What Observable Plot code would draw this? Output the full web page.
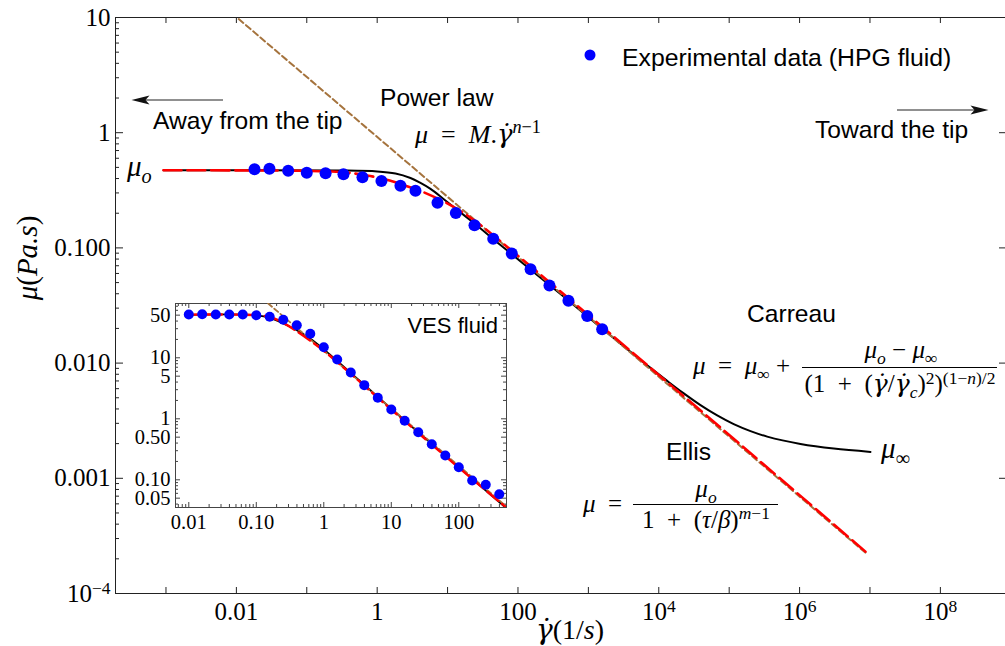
<!DOCTYPE html>
<html><head><meta charset="utf-8">
<script src="https://cdn.jsdelivr.net/npm/d3@7"></script>
<script src="https://cdn.jsdelivr.net/npm/@observablehq/plot@0.6"></script>
<style>
body{margin:0;background:#fff;}
#wrap{position:relative;width:1005px;height:646px;overflow:hidden;background:#fff;}
#wrap svg{position:absolute;overflow:visible;}
</style></head><body><div id="wrap"></div>
<script>
// ---------- DATA ----------
// Main plot: HPG fluid experimental data
const hpgRate = [0.0181,0.0295,0.0545,0.1,0.185,0.332,0.618,1.15,2.14,3.5,7.19,13.1,24.1,44.5,81.7,151,280,521,962,1570];
const hpgVisc = [0.482,0.487,0.468,0.45,0.444,0.436,0.41,0.381,0.347,0.314,0.246,0.201,0.157,0.120,0.0893,0.0654,0.0471,0.0347,0.0256,0.0197];
// Carreau fit (black)
const carreauRate = [9.22e-4,0.301,1,1.82,2.97,4.12,5.72,8.75,13.8,24.1,56.4,402,1486,4415,7621,1.316e4,2.265e4,3.91e4,6.76e4,1.16e5,2.01e5,3.47e5,1.03e6,3.06e6,1.016e7];
const carreauVisc = [0.4718,0.47,0.461,0.442,0.404,0.366,0.325,0.266,0.213,0.163,0.106,0.0398,0.02049,0.01188,0.009086,0.007008,0.005458,0.004318,0.003516,0.002954,0.002569,0.002301,0.001988,0.00181,0.001695];
// Ellis fit (red dashed)
const ellisRate = [9.22e-4,0.0814,0.301,0.721,1.24,2.14,4.12,8.75,16.8,29.3,8.63e6];
const ellisVisc = [0.4718,0.467,0.456,0.425,0.396,0.359,0.312,0.253,0.201,0.158,2.31e-4];
// Power law (brown dashed)
const powerRate = [0.0108,8.63e6];
const powerVisc = [9.7,2.26e-4];

// Inset: VES fluid
const vesRate = [0.01,0.0158,0.0251,0.0398,0.063,0.1,0.158,0.251,0.398,0.631,1,1.58,2.51,3.98,6.31,10,15.8,25.1,39.8,63.1,100,158,251,398];
const vesVisc = [51.3,51.9,51.3,51.3,51.3,49.9,47.0,42.0,34.2,24.7,14.9,9.38,5.74,3.56,2.21,1.42,0.927,0.603,0.383,0.250,0.161,0.0975,0.0828,0.0581];
const vesCarreauRate = [0.01,0.103,0.162,0.255,0.404,0.635,1.12,10,100,509];
const vesCarreauVisc = [50.4,49.7,44.6,36.1,28.0,20.5,12.4,1.46,0.161,0.034];
const vesEllisRate = [0.01,0.1,0.162,0.255,0.404,0.635,1.12,10,100,509];
const vesEllisVisc = [51,50,46.5,37,27,19,11.8,1.42,0.158,0.035];
const vesPowerRate = [0.15,509];
const vesPowerVisc = [77.6,0.0365];

// Tick labels
const xLabelVals = [0.01,1,100,1e4,1e6,1e8];
const xLabels = ["0.01","1","100","10^4","10^6","10^8"];
const yLabelVals = [10,1,0.1,0.01,0.001,1e-4];
const yLabels = ["10","1","0.100","0.010","0.001","10^−4"];
const xTickVals = [1e-3,1e-2,1e-1,1,10,100,1e3,1e4,1e5,1e6,1e7,1e8];
const insetXLabelVals = [0.01,0.1,1,10,100];
const insetXLabels = ["0.01","0.10","1","10","100"];
const insetYLabelVals = [50,10,5,1,0.5,0.1,0.05];
const insetYLabels = ["50","10","5","1","0.50","0.10","0.05"];

// ---------- helpers ----------
const zip = (xs, ys) => xs.map((x, i) => ({x, y: ys[i]}));
function minorLog(decades, mants, lo, hi) {
  const out = [];
  for (const d of decades) for (const m of mants) { const v = m * d; if (v > lo && v < hi) out.push(v); }
  return out;
}
const axisColor = "#222";
const powerColor = "#a5733d";

// ---------- MAIN PLOT ----------
const W = 1005, H = 646, mL = 115, mR = 0, mT = 17, mB = 53;
const innerW = W - mL - mR, innerH = H - mT - mB;
const xDomain = [Math.pow(10, -3.717), Math.pow(10, 8.925)];
const yDomain = [1e-4, 10];
const yMinor = minorLog([1e-4,1e-3,1e-2,1e-1,1], [2,3,4,5,6,7,8,9], 1e-4, 10);
const xMap = new Map(xLabelVals.map((v, i) => [v, xLabels[i]]));
const yMap = new Map(yLabelVals.map((v, i) => [v, yLabels[i]]));

const main = Plot.plot({
  width: W, height: H, marginLeft: mL, marginRight: mR, marginTop: mT, marginBottom: mB,
  style: {fontFamily: "Liberation Serif", fontSize: "25px", background: "transparent", color: "#000"},
  x: {type: "log", domain: xDomain, axis: null},
  y: {type: "log", domain: yDomain, axis: null},
  marks: [
    Plot.frame({stroke: axisColor}),
    Plot.tickX(xTickVals, {x: d => d, insetTop: innerH - 6, stroke: axisColor}),
    Plot.tickX(xTickVals, {x: d => d, insetBottom: innerH - 6, stroke: axisColor}),
    Plot.tickY(yLabelVals, {y: d => d, insetRight: innerW - 8, stroke: axisColor}),
    Plot.tickY(yMinor, {y: d => d, insetRight: innerW - 4, stroke: axisColor}),
    Plot.tickY(yLabelVals, {y: d => d, insetLeft: innerW - 6, stroke: axisColor}),
    Plot.text(xLabelVals, {x: d => d, text: d => xMap.get(d), frameAnchor: "bottom", lineAnchor: "top", dy: 9, fontSize: 25}),
    Plot.text(yLabelVals, {y: d => d, text: d => yMap.get(d), frameAnchor: "left", textAnchor: "end", dx: -5, fontSize: 25}),
    Plot.line(zip(carreauRate, carreauVisc), {x: "x", y: "y", stroke: "#000", strokeWidth: 2, curve: "catmull-rom", clip: true}),
    Plot.line(zip(powerRate, powerVisc), {x: "x", y: "y", stroke: powerColor, strokeWidth: 2, strokeDasharray: "6,3.5", clip: true}),
    Plot.line(zip(ellisRate, ellisVisc), {x: "x", y: "y", stroke: "#ff0000", strokeWidth: 2.6, strokeDasharray: "18,6", curve: "catmull-rom", clip: true}),
    Plot.dot(zip(hpgRate, hpgVisc), {x: "x", y: "y", r: 6, fill: "#0000ff", stroke: "none"})
  ]
});
main.style.left = "0px"; main.style.top = "0px";
document.getElementById("wrap").appendChild(main);

// ---------- INSET PLOT ----------
const iL = 50, iR = 4, iT = 4, iB = 30, iW = 385, iH = 238;
const iInnerW = iW - iL - iR, iInnerH = iH - iT - iB;
const ixDomain = [Math.pow(10, -2.197), Math.pow(10, 2.707)];
const iyDomain = [Math.pow(10, -1.454), Math.pow(10, 1.89)];
const ixMinor = minorLog([1e-3,1e-2,1e-1,1,10,100], [2,3,4,5,6,7,8,9], ixDomain[0], ixDomain[1]);
const iyMinor = minorLog([1e-2,1e-1,1,10], [2,3,4,6,7,8,9], iyDomain[0], iyDomain[1]);
const ixMap = new Map(insetXLabelVals.map((v, i) => [v, insetXLabels[i]]));
const iyMap = new Map(insetYLabelVals.map((v, i) => [v, insetYLabels[i]]));

const inset = Plot.plot({
  width: iW, height: iH, marginLeft: iL, marginRight: iR, marginTop: iT, marginBottom: iB,
  style: {fontFamily: "Liberation Serif", fontSize: "20px", background: "transparent", color: "#000"},
  x: {type: "log", domain: ixDomain, axis: null},
  y: {type: "log", domain: iyDomain, axis: null},
  marks: [
    Plot.frame({stroke: "#444"}),
    Plot.tickX(insetXLabelVals, {x: d => d, insetTop: iInnerH - 5, stroke: "#444"}),
    Plot.tickX(ixMinor, {x: d => d, insetTop: iInnerH - 3, stroke: "#444"}),
    Plot.tickX(insetXLabelVals, {x: d => d, insetBottom: iInnerH - 5, stroke: "#444"}),
    Plot.tickX(ixMinor, {x: d => d, insetBottom: iInnerH - 3, stroke: "#444"}),
    Plot.tickY(insetYLabelVals, {y: d => d, insetRight: iInnerW - 5, stroke: "#444"}),
    Plot.tickY(iyMinor, {y: d => d, insetRight: iInnerW - 3, stroke: "#444"}),
    Plot.tickY(insetYLabelVals, {y: d => d, insetLeft: iInnerW - 5, stroke: "#444"}),
    Plot.tickY(iyMinor, {y: d => d, insetLeft: iInnerW - 3, stroke: "#444"}),
    Plot.text(insetXLabelVals, {x: d => d, text: d => ixMap.get(d), frameAnchor: "bottom", lineAnchor: "top", dy: 7, fontSize: 20.5}),
    Plot.text(insetYLabelVals, {y: d => d, text: d => iyMap.get(d), frameAnchor: "left", textAnchor: "end", dx: -5, fontSize: 20.5}),
    Plot.line(zip(vesCarreauRate, vesCarreauVisc), {x: "x", y: "y", stroke: "#000", strokeWidth: 1.8, curve: "catmull-rom", clip: true}),
    Plot.line(zip(vesPowerRate, vesPowerVisc), {x: "x", y: "y", stroke: powerColor, strokeWidth: 1.8, strokeDasharray: "5,3", clip: true}),
    Plot.line(zip(vesEllisRate, vesEllisVisc), {x: "x", y: "y", stroke: "#ff0000", strokeWidth: 2.4, strokeDasharray: "14,5", curve: "catmull-rom", clip: true}),
    Plot.dot(zip(vesRate, vesVisc), {x: "x", y: "y", r: 5, fill: "#0000ff", stroke: "none"})
  ]
});
inset.style.left = (175 - iL) + "px"; inset.style.top = (303 - iT) + "px";
document.getElementById("wrap").appendChild(inset);

// ---------- superscripts in tick labels ----------
for (const svg of [main, inset]) {
  d3.select(svg).selectAll("text").each(function () {
    const s = this.textContent;
    if (s && s.includes("^")) {
      const [base, sup] = s.split("^");
      const t = d3.select(this);
      t.text(null);
      t.append("tspan").text(base);
      t.append("tspan").text(sup).attr("font-size", "70%").attr("dy", "-0.45em");
    }
  });
}

// ---------- annotations ----------
const g = d3.select(main).append("g");
function plainText(x, y, s, {size = 24.6, anchor = "start", family = "Liberation Sans"} = {}) {
  return g.append("text").attr("x", x).attr("y", y).attr("font-family", family)
    .attr("font-size", size).attr("text-anchor", anchor).attr("fill", "#000").text(s);
}
// flags: i = italic, ^ = superscript, _ = subscript, g = gamma-dot font
function mathText(x, y, parts, {size = 24, anchor = "start", rotate = null, supRaise = 0.38} = {}) {
  const t = g.append("text").attr("x", x).attr("y", y).attr("font-family", "Liberation Serif")
    .attr("font-size", size).attr("text-anchor", anchor).attr("fill", "#000");
  if (rotate != null) t.attr("transform", `rotate(${rotate},${x},${y})`);
  let off = 0;
  for (const [s, f = ""] of parts) {
    let target = 0, fs = size;
    if (f.includes("^")) { target = -supRaise * size; fs = size * 0.7; }
    if (f.includes("_")) { target = 0.25 * size; fs = size * 0.7; }
    const ts = t.append("tspan").text(s).attr("font-size", fs).attr("dy", target - off);
    if (f.includes("i")) ts.attr("font-style", "italic");
    if (f.includes("g")) ts.attr("font-family", "DejaVu Serif");
    off = target;
  }
  return t;
}
function arrow(x1, x2, y) {
  const dir = Math.sign(x2 - x1);
  g.append("line").attr("x1", x1).attr("x2", x2 - dir * 8).attr("y1", y).attr("y2", y)
    .attr("stroke", "#222").attr("stroke-width", 1.2);
  g.append("path").attr("d", `M${x2},${y}L${x2 - dir * 18},${y - 4.5}L${x2 - dir * 14},${y}L${x2 - dir * 18},${y + 4.5}Z`).attr("fill", "#111");
}
const EQ = "\u2002=\u2002";
const GD = "γ\u0307";

// Legend
g.append("circle").attr("cx", 590).attr("cy", 55).attr("r", 5.5).attr("fill", "#0000ff");
plainText(622, 65.5, "Experimental data (HPG fluid)", {size: 24.8});

plainText(380, 105.5, "Power law");
plainText(153, 128.5, "Away from the tip");
arrow(223, 131.5, 100);
plainText(815, 138, "Toward the tip");
arrow(897, 988.5, 110);
plainText(747, 321.5, "Carreau");
plainText(666, 460, "Ellis");
plainText(498, 333, "VES fluid", {size: 22, anchor: "end"});

// Power-law formula
mathText(415, 143, [["μ", "i"], [EQ], ["M", "i"], ["."], [GD, "ig"], ["n", "i^"], ["−1", "^"]], {size: 26});
// mu_o and mu_inf labels
mathText(127, 176, [["μ", "i"], ["o", "i_"]], {size: 29});
mathText(881, 458, [["μ", "i"], ["∞", "_"]], {size: 29});

// Carreau formula
mathText(693, 374, [["μ", "i"], [EQ], ["μ", "i"], ["∞", "_"], [" + "]], {size: 25});
mathText(901, 357.5, [["μ", "i"], ["o", "i_"], [" − "], ["μ", "i"], ["∞", "_"]], {size: 25, anchor: "middle"});
g.append("line").attr("x1", 802).attr("x2", 997).attr("y1", 367.5).attr("y2", 367.5).attr("stroke", "#000").attr("stroke-width", 1);
mathText(900, 392, [["(1\u2002+\u2002("], [GD, "ig"], ["/"], [GD, "ig"], ["c", "i_"], [")"], ["2", "^"], [")"], ["(1−", "^"], ["n", "i^"], [")/2", "^"]], {size: 25, anchor: "middle", supRaise: 0.33});

// Ellis formula
mathText(583, 512, [["μ", "i"], [EQ]], {size: 25});
mathText(706, 497, [["μ", "i"], ["o", "i_"]], {size: 25, anchor: "middle"});
g.append("line").attr("x1", 633).attr("x2", 778).attr("y1", 504.5).attr("y2", 504.5).attr("stroke", "#000").attr("stroke-width", 1);
mathText(706, 528, [["1\u2002+\u2002("], ["τ", "i"], ["/"], ["β", "i"], [")"], ["m", "i^"], ["−1", "^"]], {size: 25, anchor: "middle"});

// Axis titles
mathText(570, 638.5, [[GD, "ig"], ["(1/"], ["s", "i"], [")"]], {size: 28, anchor: "middle"});
mathText(37, 258, [["μ", "i"], ["("], ["Pa.s", "i"], [")"]], {size: 29, anchor: "middle", rotate: -90});
</script>
</body></html>
